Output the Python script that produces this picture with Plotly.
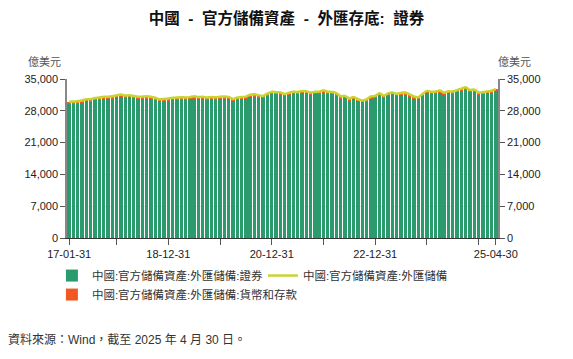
import pandas as pd
import plotly.graph_objects as go

# Month-end categories, 2017-01-31 .. 2025-04-30
dates = pd.date_range("2017-01-31", periods=100, freq="ME")
categories = [d.strftime("%y-%m-%d") for d in dates]

# 中國:官方儲備資產:外匯儲備 (億美元)
fx_reserves = [
    29982, 30051, 30091, 30295, 30536, 30568, 30807, 30915, 31085, 31092, 31193, 31399,
    31614, 31345, 31428, 31249, 31106, 31121, 31179, 31097, 30870, 30531, 30617, 30727,
    30879, 30902, 30988, 30950, 31010, 31192, 31037, 31072, 30924, 31052, 30956, 31079,
    31155, 31067, 30606, 30915, 31017, 31123, 31544, 31646, 31426, 31280, 31785, 32165,
    32107, 32050, 31700, 31982, 32218, 32140, 32359, 32321, 32006, 32176, 32224, 32502,
    32216, 32138, 31880, 31197, 31278, 30713, 31041, 30549, 30290, 30524, 31175, 31277,
    31845, 31332, 31839, 32048, 31765, 31930, 32043, 31601, 31151, 31012, 31718, 32380,
    32193, 32258, 32457, 32008, 32320, 32224, 32564, 32882, 33164, 32610, 32659, 32024,
    32090, 32272, 32407, 32817,
]

# 中國:官方儲備資產:外匯儲備:證券 (億美元)
securities = [
    29602, 29701, 29681, 29905, 30176, 30148, 30407, 30545, 30655, 30702, 30783, 30949,
    31194, 30965, 30988, 30849, 30736, 30711, 30749, 30707, 30510, 30191, 30237, 30307,
    30489, 30532, 30578, 30570, 30610, 30762, 30647, 30662, 30554, 30652, 30576, 30659,
    30755, 30687, 30186, 30505, 30627, 30693, 31094, 31226, 31026, 30900, 31355, 31695,
    31667, 31640, 31310, 31562, 31768, 31710, 31899, 31881, 31606, 31756, 31794, 32022,
    31766, 31708, 31470, 30807, 30878, 30343, 30651, 30189, 29940, 30154, 30775, 30857,
    31405, 30932, 31409, 31598, 31345, 31490, 31583, 31181, 30761, 30632, 31288, 31890,
    31723, 31808, 31977, 31568, 31860, 31774, 32074, 32372, 32634, 32130, 32189, 31594,
    31650, 31812, 31937, 32317,
]

# 中國:官方儲備資產:外匯儲備:貨幣和存款 (億美元)
deposits = [
    380, 350, 410, 390, 360, 420, 400, 370, 430, 390, 410, 450,
    420, 380, 440, 400, 370, 410, 430, 390, 360, 340, 380, 420,
    390, 370, 410, 380, 400, 430, 390, 410, 370, 400, 380, 420,
    400, 380, 420, 410, 390, 430, 450, 420, 400, 380, 430, 470,
    440, 410, 390, 420, 450, 430, 460, 440, 400, 420, 430, 480,
    450, 430, 410, 390, 400, 370, 390, 360, 350, 370, 400, 420,
    440, 400, 430, 450, 420, 440, 460, 420, 390, 380, 430, 490,
    470, 450, 480, 440, 460, 450, 490, 510, 530, 480, 470, 430,
    440, 460, 470, 500,
]

tick_cats = ["17-01-31", "17-12-31", "18-12-31", "19-12-31", "20-12-31",
             "21-12-31", "22-12-31", "23-12-31", "24-12-31", "25-04-30"]
tick_text = ["17-01-31", "", "18-12-31", "", "20-12-31",
             "", "22-12-31", "", "", "25-04-30"]
y_ticks = [0, 7000, 14000, 21000, 28000, 35000]

name_sec = "中國:官方儲備資產:外匯儲備:證券"
name_dep = "中國:官方儲備資產:外匯儲備:貨幣和存款"
name_fx = "中國:官方儲備資產:外匯儲備"

FONT = "Liberation Sans, Arial, Noto Sans CJK TC, sans-serif"
GREEN = "#2b9a6c"
ORANGE = "#f05a22"
LINE = "#c8d430"

fig = go.Figure()
fig.add_trace(go.Bar(x=categories, y=securities, name=name_sec,
                     marker=dict(color=GREEN, line=dict(width=0)), legendrank=1))
fig.add_trace(go.Bar(x=categories, y=deposits, name=name_dep,
                     marker=dict(color=ORANGE, line=dict(width=0)), legendrank=3))
fig.add_trace(go.Scatter(x=categories, y=fx_reserves, name=name_fx, mode="lines",
                         line=dict(color=LINE, width=2.5, shape="spline", smoothing=0.6),
                         yaxis="y2", legendrank=2))

axis_font = dict(family=FONT, size=11, color="#222")
fig.update_layout(
    width=573, height=359,
    margin=dict(l=67, r=75, t=79, b=121),
    paper_bgcolor="white", plot_bgcolor="white",
    barmode="stack", bargap=0.22,
    font=dict(family=FONT, size=11, color="#333"),
    title=dict(text="<b>中國  -  官方儲備資產  -  外匯存底:  證券</b>",
               x=0.5, xanchor="center", y=1 - 19 / 359, yanchor="middle",
               font=dict(family=FONT, size=15.5, color="#111")),
    xaxis=dict(type="category", tickmode="array", tickvals=tick_cats, ticktext=tick_text,
               ticks="outside", ticklen=6, tickcolor="#555", tickwidth=1,
               showline=True, linecolor="#333", linewidth=1,
               showgrid=False, tickfont=axis_font, tickangle=0),
    yaxis=dict(range=[0, 35000], tickvals=y_ticks, tickformat=",",
               ticks="outside", ticklen=5, tickcolor="#555",
               showline=True, linecolor="#888", linewidth=1.5,
               showgrid=True, gridcolor="#e2e2e2", griddash="dash", gridwidth=1,
               zeroline=False, tickfont=axis_font),
    yaxis2=dict(range=[0, 35000], tickvals=y_ticks, tickformat=",",
                overlaying="y", side="right",
                ticks="outside", ticklen=5, tickcolor="#555",
                showline=True, linecolor="#888", linewidth=1.5,
                showgrid=False, zeroline=False, tickfont=axis_font),
    legend=dict(orientation="h", x=-0.035, xanchor="left", y=-0.145, yanchor="top",
                traceorder="normal", entrywidth=166, entrywidthmode="pixels",
                font=dict(family=FONT, size=11.5, color="#333"),
                tracegroupgap=0, itemwidth=30),
    showlegend=True,
    annotations=[
        dict(text="億美元", xref="paper", yref="paper", x=(44 - 67) / 431, y=(238 - 62) / 159,
             xanchor="center", yanchor="middle", showarrow=False,
             font=dict(family=FONT, size=11, color="#555")),
        dict(text="億美元", xref="paper", yref="paper", x=(514 - 67) / 431, y=(238 - 62) / 159,
             xanchor="center", yanchor="middle", showarrow=False,
             font=dict(family=FONT, size=11, color="#555")),
        dict(text="資料來源：Wind，截至 2025 年 4 月 30 日。", xref="paper", yref="paper",
             x=(6 - 67) / 431, y=(238 - 340) / 159, xanchor="left", yanchor="middle",
             showarrow=False, font=dict(family=FONT, size=12, color="#333")),
    ],
)

fig.write_html("out.html", config={"displayModeBar": False},
               post_script="document.body.style.margin='0';")
